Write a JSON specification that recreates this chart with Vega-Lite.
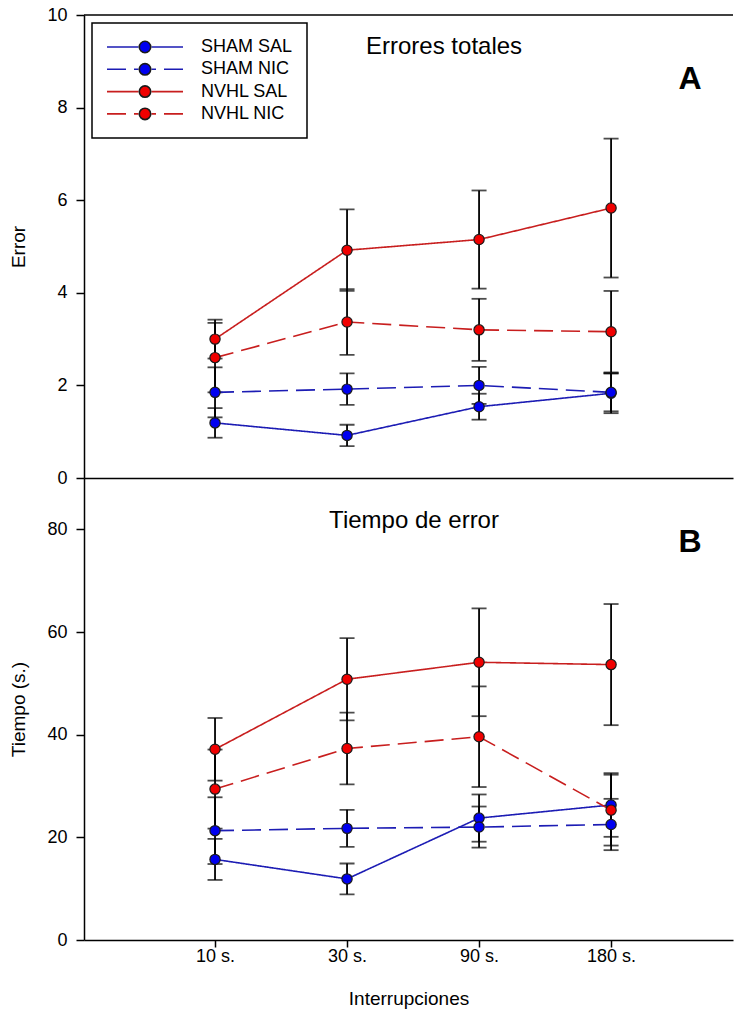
{
  "$schema": "https://vega.github.io/schema/vega-lite/v6.json",
  "padding": {"left": 9, "top": 6, "right": 0, "bottom": 5},
  "spacing": 0,
  "bounds": "flush",
  "background": "white",
  "datasets": {
    "errores": [
      {"g": "SHAM SAL", "t": "10 s.", "v": 1.19, "e": 0.32},
      {"g": "SHAM SAL", "t": "30 s.", "v": 0.92, "e": 0.23},
      {"g": "SHAM SAL", "t": "90 s.", "v": 1.54, "e": 0.28},
      {"g": "SHAM SAL", "t": "180 s.", "v": 1.83, "e": 0.43},
      {"g": "SHAM NIC", "t": "10 s.", "v": 1.85, "e": 0.54},
      {"g": "SHAM NIC", "t": "30 s.", "v": 1.92, "e": 0.34},
      {"g": "SHAM NIC", "t": "90 s.", "v": 2.0, "e": 0.4},
      {"g": "SHAM NIC", "t": "180 s.", "v": 1.85, "e": 0.41},
      {"g": "NVHL SAL", "t": "10 s.", "v": 3.0, "e": 0.42},
      {"g": "NVHL SAL", "t": "30 s.", "v": 4.92, "e": 0.88},
      {"g": "NVHL SAL", "t": "90 s.", "v": 5.15, "e": 1.06},
      {"g": "NVHL SAL", "t": "180 s.", "v": 5.83, "e": 1.5},
      {"g": "NVHL NIC", "t": "10 s.", "v": 2.6, "e": 0.75},
      {"g": "NVHL NIC", "t": "30 s.", "v": 3.37, "e": 0.71},
      {"g": "NVHL NIC", "t": "90 s.", "v": 3.2, "e": 0.67},
      {"g": "NVHL NIC", "t": "180 s.", "v": 3.16, "e": 0.88}
    ],
    "tiempo": [
      {"g": "SHAM SAL", "t": "10 s.", "v": 15.7, "e": 4.0},
      {"g": "SHAM SAL", "t": "30 s.", "v": 11.9, "e": 3.0},
      {"g": "SHAM SAL", "t": "90 s.", "v": 23.75, "e": 4.6},
      {"g": "SHAM SAL", "t": "180 s.", "v": 26.3, "e": 6.2},
      {"g": "SHAM NIC", "t": "10 s.", "v": 21.3, "e": 6.5},
      {"g": "SHAM NIC", "t": "30 s.", "v": 21.75, "e": 3.6},
      {"g": "SHAM NIC", "t": "90 s.", "v": 22.0, "e": 4.0},
      {"g": "SHAM NIC", "t": "180 s.", "v": 22.5, "e": 5.0},
      {"g": "NVHL SAL", "t": "10 s.", "v": 37.15, "e": 6.1},
      {"g": "NVHL SAL", "t": "30 s.", "v": 50.8, "e": 8.0},
      {"g": "NVHL SAL", "t": "90 s.", "v": 54.1, "e": 10.5},
      {"g": "NVHL SAL", "t": "180 s.", "v": 53.65, "e": 11.8},
      {"g": "NVHL NIC", "t": "10 s.", "v": 29.4, "e": 7.7},
      {"g": "NVHL NIC", "t": "30 s.", "v": 37.3, "e": 7.0},
      {"g": "NVHL NIC", "t": "90 s.", "v": 39.6, "e": 9.8},
      {"g": "NVHL NIC", "t": "180 s.", "v": 25.3, "e": 6.9}
    ]
  },
  "resolve": {"scale": {"stroke": "independent", "strokeDash": "independent", "fill": "independent"}},
  "vconcat": [
    {
      "width": 649,
      "height": 463,
      "data": {"name": "errores"},
      "layer": [
        {
          "mark": {"type": "errorbar", "color": "black", "thickness": 1.8, "size": 15, "ticks": true},
          "encoding": {
            "x": {"field": "t", "type": "ordinal", "scale": {"type": "point", "domain": ["10 s.", "30 s.", "90 s.", "180 s."], "padding": 0.958, "align": 0.518}},
            "y": {"field": "v", "type": "quantitative", "title": "Error", "scale": {"domain": [0, 10], "nice": false}},
            "yError": {"field": "e"}
          }
        },
        {
          "mark": {"type": "line", "strokeWidth": 1.6},
          "encoding": {
            "x": {"field": "t", "type": "ordinal", "scale": {"type": "point", "domain": ["10 s.", "30 s.", "90 s.", "180 s."], "padding": 0.958, "align": 0.518}, "axis": {"title": null, "labels": false, "ticks": false}},
            "y": {"field": "v", "type": "quantitative", "title": "Error", "scale": {"domain": [0, 10], "nice": false}, "axis": {"title": "Error", "values": [0, 2, 4, 6, 8, 10], "labelPadding": 9, "titlePadding": 18}},
            "order": {"value": null},
            "stroke": {"field": "g", "type": "nominal", "scale": {"domain": ["SHAM SAL", "SHAM NIC", "NVHL SAL", "NVHL NIC"], "range": ["#1c1cb4", "#1c1cb4", "#c81e1e", "#c81e1e"]},
              "legend": {"title": null, "orient": "none", "legendX": 8, "legendY": 8, "direction": "vertical", "symbolType": "M-1,0H-0.17M1,0H0.17", "symbolSize": 5776, "symbolStrokeWidth": 1.6, "clipHeight": 20, "rowPadding": 2.3, "padding": 14, "labelOffset": 17, "labelFontSize": 18, "labelColor": "black", "strokeColor": "black"}},
            "strokeDash": {"field": "g", "type": "nominal", "scale": {"domain": ["SHAM SAL", "SHAM NIC", "NVHL SAL", "NVHL NIC"], "range": [[1, 0], [19, 8], [1, 0], [19, 8]]},
              "legend": {"title": null, "orient": "none", "legendX": 8, "legendY": 8, "direction": "vertical", "symbolType": "M-1,0H-0.17M1,0H0.17", "symbolSize": 5776, "symbolStrokeWidth": 1.6, "clipHeight": 20, "rowPadding": 2.3, "padding": 14, "labelOffset": 17, "labelFontSize": 18, "labelColor": "black", "strokeColor": "black"}}
          }
        },
        {
          "mark": {"type": "circle", "size": 105, "opacity": 1, "stroke": "#1a1a1a", "strokeWidth": 1.2},
          "encoding": {
            "x": {"field": "t", "type": "ordinal", "scale": {"type": "point", "domain": ["10 s.", "30 s.", "90 s.", "180 s."], "padding": 0.958, "align": 0.518}},
            "y": {"field": "v", "type": "quantitative", "title": "Error", "scale": {"domain": [0, 10], "nice": false}},
            "fill": {"field": "g", "type": "nominal", "scale": {"domain": ["SHAM SAL", "SHAM NIC", "NVHL SAL", "NVHL NIC"], "range": ["#0000f0", "#0000f0", "#f00000", "#f00000"]},
              "legend": {"title": null, "orient": "top-left", "offset": 8, "direction": "vertical", "symbolType": "M0.15,0A0.15,0.15,0,1,1,-0.15,0A0.15,0.15,0,1,1,0.15,0Z", "symbolSize": 5776, "symbolStrokeColor": "#1a1a1a", "symbolStrokeWidth": 1.6, "clipHeight": 20, "rowPadding": 2.3, "padding": 14, "labelOffset": 17, "labelFontSize": 18, "labelOpacity": 0, "strokeColor": "transparent"}}
          }
        },
        {
          "data": {"values": [{}]},
          "mark": {"type": "rule", "color": "black", "strokeWidth": 1.5},
          "encoding": {"y": {"datum": 10, "type": "quantitative"}}
        },
        {
          "data": {"values": [{"label": "Errores totales"}]},
          "mark": {"type": "text", "fontSize": 24, "dx": 97, "align": "center", "baseline": "middle", "color": "black"},
          "encoding": {
            "x": {"datum": "30 s.", "type": "ordinal"},
            "y": {"datum": 9.3, "type": "quantitative"},
            "text": {"field": "label"}
          }
        },
        {
          "data": {"values": [{"label": "A"}]},
          "mark": {"type": "text", "fontSize": 32, "fontWeight": "bold", "dx": 79, "align": "center", "baseline": "middle", "color": "black"},
          "encoding": {
            "x": {"datum": "180 s.", "type": "ordinal"},
            "y": {"datum": 8.62, "type": "quantitative"},
            "text": {"field": "label"}
          }
        }
      ]
    },
    {
      "width": 649,
      "height": 462,
      "data": {"name": "tiempo"},
      "layer": [
        {
          "mark": {"type": "errorbar", "color": "black", "thickness": 1.8, "size": 15, "ticks": true},
          "encoding": {
            "x": {"field": "t", "type": "ordinal", "scale": {"type": "point", "domain": ["10 s.", "30 s.", "90 s.", "180 s."], "padding": 0.958, "align": 0.518}},
            "y": {"field": "v", "type": "quantitative", "title": "Tiempo (s.)", "scale": {"domain": [0, 90], "nice": false}},
            "yError": {"field": "e"}
          }
        },
        {
          "mark": {"type": "line", "strokeWidth": 1.6},
          "encoding": {
            "x": {"field": "t", "type": "ordinal", "scale": {"type": "point", "domain": ["10 s.", "30 s.", "90 s.", "180 s."], "padding": 0.958, "align": 0.518}, "axis": {"title": "Interrupciones", "labelAngle": 0, "labelAlign": "center", "labelPadding": 9, "titlePadding": 24, "tickSize": 7}},
            "y": {"field": "v", "type": "quantitative", "title": "Tiempo (s.)", "scale": {"domain": [0, 90], "nice": false}, "axis": {"title": "Tiempo (s.)", "values": [0, 20, 40, 60, 80], "labelPadding": 9, "titlePadding": 18}},
            "order": {"value": null},
            "stroke": {"field": "g", "type": "nominal", "scale": {"domain": ["SHAM SAL", "SHAM NIC", "NVHL SAL", "NVHL NIC"], "range": ["#1c1cb4", "#1c1cb4", "#c81e1e", "#c81e1e"]}, "legend": null},
            "strokeDash": {"field": "g", "type": "nominal", "scale": {"domain": ["SHAM SAL", "SHAM NIC", "NVHL SAL", "NVHL NIC"], "range": [[1, 0], [19, 8], [1, 0], [19, 8]]}, "legend": null}
          }
        },
        {
          "mark": {"type": "circle", "size": 105, "opacity": 1, "stroke": "#1a1a1a", "strokeWidth": 1.2},
          "encoding": {
            "x": {"field": "t", "type": "ordinal", "scale": {"type": "point", "domain": ["10 s.", "30 s.", "90 s.", "180 s."], "padding": 0.958, "align": 0.518}},
            "y": {"field": "v", "type": "quantitative", "title": "Tiempo (s.)", "scale": {"domain": [0, 90], "nice": false}},
            "fill": {"field": "g", "type": "nominal", "scale": {"domain": ["SHAM SAL", "SHAM NIC", "NVHL SAL", "NVHL NIC"], "range": ["#0000f0", "#0000f0", "#f00000", "#f00000"]}, "legend": null}
          }
        },
        {
          "data": {"values": [{"label": "Tiempo de error"}]},
          "mark": {"type": "text", "fontSize": 24, "dx": 67, "align": "center", "baseline": "middle", "color": "black"},
          "encoding": {
            "x": {"datum": "30 s.", "type": "ordinal"},
            "y": {"datum": 81.6, "type": "quantitative"},
            "text": {"field": "label"}
          }
        },
        {
          "data": {"values": [{"label": "B"}]},
          "mark": {"type": "text", "fontSize": 32, "fontWeight": "bold", "dx": 79, "align": "center", "baseline": "middle", "color": "black"},
          "encoding": {
            "x": {"datum": "180 s.", "type": "ordinal"},
            "y": {"datum": 77.5, "type": "quantitative"},
            "text": {"field": "label"}
          }
        }
      ]
    }
  ],
  "config": {
    "font": "Liberation Sans",
    "view": {"stroke": null},
    "axis": {"grid": false, "domainColor": "black", "tickColor": "black", "labelColor": "black", "titleColor": "black", "domainWidth": 1.5, "tickWidth": 1.5, "labelFontSize": 18, "titleFontSize": 19, "titleFontWeight": "normal", "tickSize": 8, "labelFont": "Liberation Sans", "titleFont": "Liberation Sans"},
    "legend": {"labelFont": "Liberation Sans", "strokeWidth": 1.5},
    "text": {"font": "Liberation Sans"}
  }
}
